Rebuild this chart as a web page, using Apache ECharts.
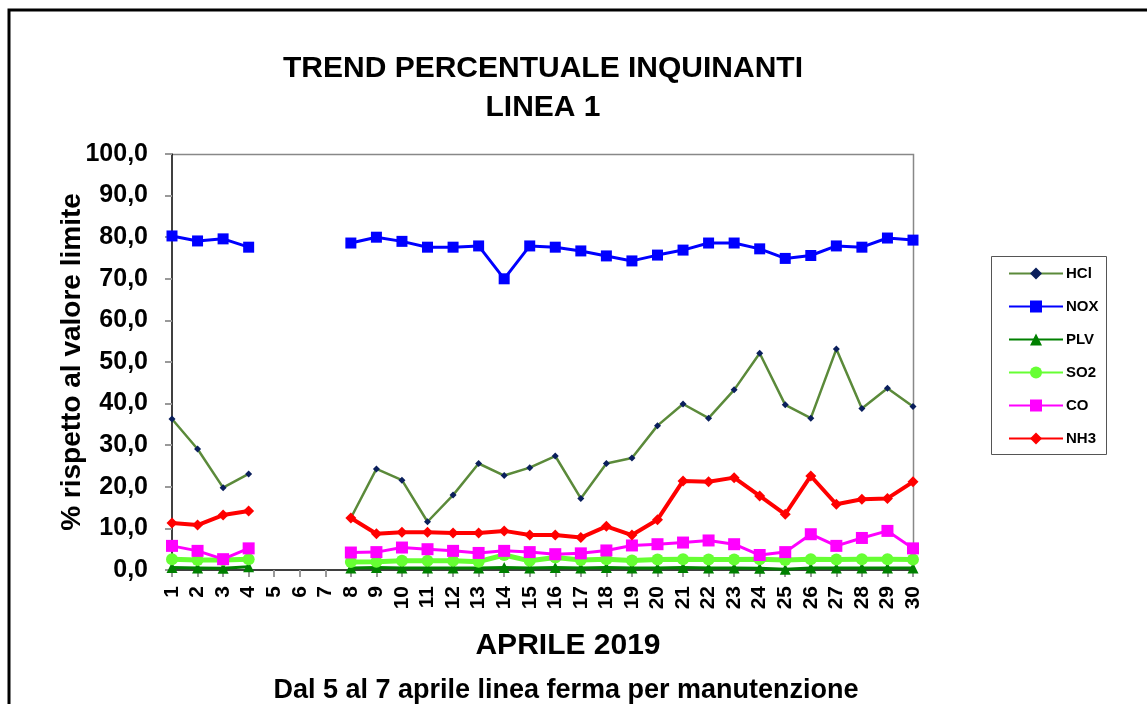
<!DOCTYPE html>
<html>
<head>
<meta charset="utf-8">
<script src="https://cdn.jsdelivr.net/npm/echarts@6/dist/echarts.min.js"></script>
<style>
  html, body { margin: 0; padding: 0; background: #fff; }
  #chart { width: 1147px; height: 704px; }
</style>
</head>
<body>
<div id="chart"></div>
<script>
// days of April 2019 (5-7: line stopped)
const days = Array.from({ length: 30 }, (_, i) => String(i + 1));

const hcl = [36.3, 29.1, 19.8, 23.1, null, null, null, 12.5, 24.3, 21.6, 11.6, 18.0, 25.6, 22.7, 24.6, 27.4, 17.2, 25.6, 26.9, 34.7, 39.9, 36.5, 43.3, 52.1, 39.7, 36.5, 53.1, 38.8, 43.7, 39.3];
const nox = [80.3, 79.1, 79.6, 77.6, null, null, null, 78.6, 80.0, 79.0, 77.6, 77.6, 77.9, 70.0, 77.9, 77.6, 76.7, 75.5, 74.3, 75.7, 76.9, 78.6, 78.6, 77.2, 74.9, 75.6, 77.9, 77.6, 79.8, 79.3];
const plv = [0.6, 0.5, 0.4, 0.8, null, null, null, 0.5, 0.6, 0.5, 0.5, 0.5, 0.5, 0.6, 0.5, 0.6, 0.5, 0.6, 0.5, 0.5, 0.6, 0.5, 0.5, 0.4, 0.2, 0.5, 0.5, 0.5, 0.5, 0.5];
const so2 = [2.6, 2.4, 2.4, 2.6, null, null, null, 1.9, 2.0, 2.2, 2.2, 2.2, 2.0, 3.6, 2.2, 3.0, 2.4, 2.6, 2.3, 2.5, 2.6, 2.5, 2.5, 2.6, 2.4, 2.6, 2.5, 2.6, 2.6, 2.5];
const co = [5.8, 4.6, 2.6, 5.2, null, null, null, 4.2, 4.3, 5.4, 5.0, 4.6, 4.1, 4.6, 4.3, 3.8, 4.0, 4.7, 5.9, 6.2, 6.6, 7.1, 6.2, 3.6, 4.3, 8.6, 5.8, 7.7, 9.4, 5.2];
const nh3 = [11.3, 10.8, 13.2, 14.2, null, null, null, 12.5, 8.7, 9.1, 9.1, 8.9, 8.9, 9.4, 8.4, 8.4, 7.8, 10.5, 8.4, 12.1, 21.4, 21.2, 22.2, 17.8, 13.4, 22.6, 15.8, 17.0, 17.2, 21.2];

const FONT = '"Liberation Sans", Arial, sans-serif';

function line(name, data, color, width, symbol, size, symColor) {
  return {
    name, type: 'line', data, connectNulls: false,
    symbol, symbolSize: size,
    lineStyle: { color, width },
    itemStyle: { color: symColor || color },
    emphasis: { disabled: true }
  };
}

const chart = echarts.init(document.getElementById('chart'));
chart.setOption({
  animation: false,
  backgroundColor: '#fff',
  title: [
    { text: 'TREND PERCENTUALE INQUINANTI\nLINEA 1', left: 538, top: 44, textAlign: 'center',
      textStyle: { fontFamily: FONT, fontWeight: 'bold', fontSize: 30, lineHeight: 39, color: '#000' } },
    { text: 'APRILE 2019', left: 563, top: 626, textAlign: 'center',
      textStyle: { fontFamily: FONT, fontWeight: 'bold', fontSize: 30, color: '#000' } },
    { text: 'Dal 5 al 7 aprile linea ferma per manutenzione', left: 561, top: 672, textAlign: 'center',
      textStyle: { fontFamily: FONT, fontWeight: 'bold', fontSize: 27, color: '#000' } }
  ],
  graphic: [
    { type: 'polyline', shape: { points: [[9, 704], [9, 10], [1147, 10]] },
      style: { stroke: '#000', lineWidth: 3, fill: null } },
    { type: 'rect', shape: { x: 991.5, y: 256.5, width: 115, height: 198 },
      style: { stroke: '#555', lineWidth: 1, fill: '#fff' }, z: 0 },
    { type: 'polyline', shape: { points: [[172, 154.5], [913.5, 154.5], [913.5, 570]] },
      style: { stroke: '#888', lineWidth: 1.5, fill: null }, z: 0 }
  ],
  legend: {
    orient: 'vertical', left: 1003, top: 261, itemGap: 18, itemWidth: 54, itemHeight: 15,
    textStyle: { fontFamily: FONT, fontWeight: 'bold', fontSize: 15, color: '#000', padding: [0, 0, 0, -2] },
    data: ['HCl', 'NOX', 'PLV', 'SO2', 'CO', 'NH3']
  },
  grid: { left: 172, right: 234, top: 154, bottom: 134 },
  xAxis: {
    type: 'category', data: days, boundaryGap: false,
    axisLine: { lineStyle: { color: '#000', width: 1.5 } },
    axisTick: { alignWithLabel: true, length: 7, lineStyle: { color: '#999', width: 2 } },
    axisLabel: { rotate: 90, interval: 0, margin: 16, fontFamily: FONT, fontWeight: 'bold', fontSize: 21, color: '#000' },
    splitLine: { show: false }
  },
  yAxis: {
    type: 'value', min: 0, max: 100, interval: 10,
    name: '% rispetto al valore limite', nameLocation: 'middle', nameGap: 86, nameRotate: 90,
    nameMoveOverlap: false,
    nameTextStyle: { fontFamily: FONT, fontWeight: 'bold', fontSize: 28, color: '#000' },
    axisLine: { show: true, lineStyle: { color: '#000', width: 1.5 } },
    axisTick: { show: true, length: 7, lineStyle: { color: '#999', width: 2 } },
    axisLabel: { margin: 24, fontFamily: FONT, fontWeight: 'bold', fontSize: 25, color: '#000',
      formatter: v => v.toFixed(1).replace('.', ',') },
    splitLine: { show: false }
  },
  series: [
    line('HCl', hcl, '#5B8A3A', 2.5, 'diamond', 7, '#0A1F5C'),
    line('NOX', nox, '#0000FF', 3, 'rect', 11),
    line('PLV', plv, '#008000', 3, 'triangle', 11),
    line('SO2', so2, '#66FF33', 5, 'circle', 12),
    line('CO', co, '#FF00FF', 3, 'rect', 12),
    line('NH3', nh3, '#FF0000', 4, 'diamond', 11)
  ]
});
</script>
</body>
</html>
